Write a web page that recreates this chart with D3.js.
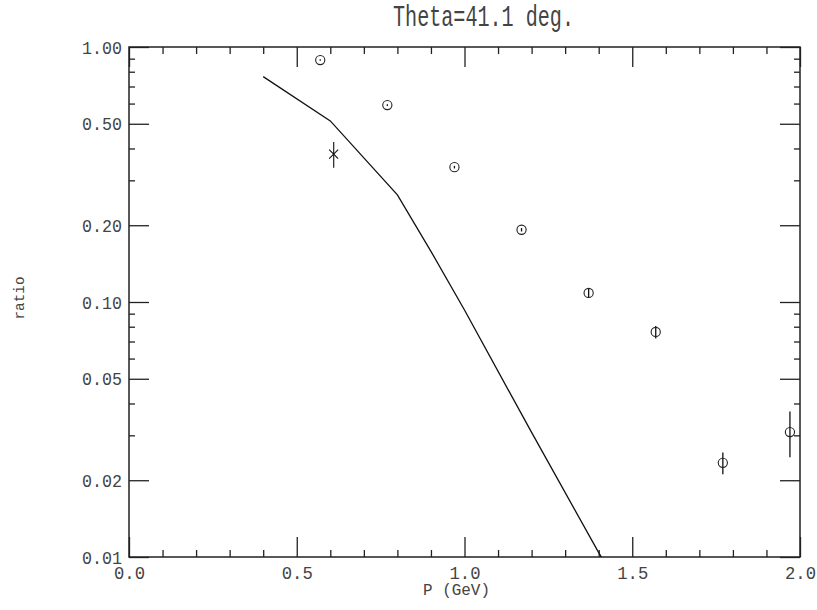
<!DOCTYPE html>
<html>
<head>
<meta charset="utf-8">
<script src="https://cdn.jsdelivr.net/npm/d3@7"></script>
<style>
  body { margin: 0; background: #fff; }
  text { font-family: "Liberation Mono", "DejaVu Sans Mono", monospace; fill: #444; }
</style>
</head>
<body>
<div id="chart"></div>
<script>
// measured points (open circles)
const pData = [0.57, 0.77, 0.97, 1.17, 1.37, 1.57, 1.77, 1.97];
const ratio = [0.889, 0.592, 0.338, 0.192, 0.1085, 0.0763, 0.0234, 0.0309];
const ratioErr = [0.006, 0.005, 0.004, 0.003, 0.0044, 0.0043, 0.0023, 0.0063];

// single star point
const pStar = [0.61];
const ratioStar = [0.38];
const errStar = [0.044];

// model curve
const curveP = [0.4, 0.6, 0.8, 0.9, 1.0, 1.2, 1.4, 1.41];
const curveRatio = [0.765, 0.513, 0.263, 0.158, 0.093, 0.0308, 0.0104, 0.0099];

// ticks
const xMajor = [0, 0.5, 1.0, 1.5, 2.0];
const xMinor = d3.range(0, 21).map(d => d / 10).filter(d => Math.round(d * 10) % 5 !== 0);
const yMajor = [0.01, 0.02, 0.05, 0.1, 0.2, 0.5, 1.0];
const yMinor = [0.03, 0.04, 0.06, 0.07, 0.08, 0.09, 0.3, 0.4, 0.6, 0.7, 0.8, 0.9];

const width = 817,
    height = 610;
const margin = {top: 47, right: 17, bottom: 53, left: 129};
const w = width - margin.left - margin.right,
    h = height - margin.top - margin.bottom;

const x = d3.scaleLinear().domain([0, 2]).range([0, w]);
const y = d3.scaleLog().domain([0.01, 1]).range([h, 0]);

const svg = d3.select("#chart").append("svg")
    .attr("width", width)
    .attr("height", height);

const g = svg.append("g")
    .attr("transform", "translate(" + margin.left + "," + margin.top + ")");

svg.append("defs").append("clipPath")
    .attr("id", "clip")
  .append("rect")
    .attr("width", w)
    .attr("height", h);

// title
svg.append("text")
    .attr("x", 393)
    .attr("y", 26)
    .attr("font-size", 29)
    .attr("textLength", 181)
    .attr("lengthAdjust", "spacingAndGlyphs")
    .text("Theta=41.1 deg.");

function styleAxis(sel) {
  sel.select(".domain").remove();
  sel.selectAll("line").attr("stroke", "#222").attr("stroke-width", 1.3);
}

// bottom axis
g.append("g")
    .attr("transform", "translate(0," + h + ")")
    .call(d3.axisBottom(x).tickValues(xMajor).tickSize(-20).tickPadding(9)
      .tickFormat(d3.format(".1f")))
    .call(styleAxis)
    .selectAll("text")
      .attr("font-size", 19)
      .attr("textLength", 31)
      .attr("lengthAdjust", "spacingAndGlyphs");

g.append("g")
    .attr("transform", "translate(0," + h + ")")
    .call(d3.axisBottom(x).tickValues(xMinor).tickSize(-7).tickFormat(""))
    .call(styleAxis);

// top axis
g.append("g")
    .call(d3.axisTop(x).tickValues(xMajor).tickSize(-20).tickFormat(""))
    .call(styleAxis);
g.append("g")
    .call(d3.axisTop(x).tickValues(xMinor).tickSize(-7).tickFormat(""))
    .call(styleAxis);

// left axis
g.append("g")
    .call(d3.axisLeft(y).tickValues(yMajor).tickSize(-20).tickPadding(7)
      .tickFormat(d3.format(".2f")))
    .call(styleAxis)
    .selectAll("text")
      .attr("font-size", 19)
      .attr("textLength", 40)
      .attr("lengthAdjust", "spacingAndGlyphs");
g.append("g")
    .call(d3.axisLeft(y).tickValues(yMinor).tickSize(-6).tickFormat(""))
    .call(styleAxis);

// right axis
g.append("g")
    .attr("transform", "translate(" + w + ",0)")
    .call(d3.axisRight(y).tickValues(yMajor).tickSize(-20).tickFormat(""))
    .call(styleAxis);
g.append("g")
    .attr("transform", "translate(" + w + ",0)")
    .call(d3.axisRight(y).tickValues(yMinor).tickSize(-6).tickFormat(""))
    .call(styleAxis);

// frame
g.append("rect")
    .attr("width", w)
    .attr("height", h)
    .attr("fill", "none")
    .attr("stroke", "#222")
    .attr("stroke-width", 1.5);

// axis titles
svg.append("text")
    .attr("x", 423)
    .attr("y", 595)
    .attr("font-size", 17)
    .attr("textLength", 67)
    .attr("lengthAdjust", "spacingAndGlyphs")
    .text("P (GeV)");

svg.append("text")
    .attr("transform", "translate(24,298) rotate(-90)")
    .attr("text-anchor", "middle")
    .attr("font-size", 15)
    .attr("textLength", 43)
    .attr("lengthAdjust", "spacingAndGlyphs")
    .text("ratio");

// curve
const line = d3.line()
    .x(function(d, i) { return x(curveP[i]); })
    .y(function(d) { return y(d); });

g.append("path")
    .datum(curveRatio)
    .attr("clip-path", "url(#clip)")
    .attr("d", line)
    .attr("fill", "none")
    .attr("stroke", "#111")
    .attr("stroke-width", 1.3);

// circles with error bars
const pts = g.selectAll(".pt")
    .data(ratio)
  .enter().append("g")
    .attr("class", "pt");

pts.append("line")
    .attr("x1", function(d, i) { return x(pData[i]); })
    .attr("x2", function(d, i) { return x(pData[i]); })
    .attr("y1", function(d, i) { return y(d + ratioErr[i]); })
    .attr("y2", function(d, i) { return y(d - ratioErr[i]); })
    .attr("stroke", "#111")
    .attr("stroke-width", 1.3);

pts.append("circle")
    .attr("cx", function(d, i) { return x(pData[i]); })
    .attr("cy", function(d) { return y(d); })
    .attr("r", 4.6)
    .attr("fill", "none")
    .attr("stroke", "#222")
    .attr("stroke-width", 1.1);

// star point
const star = g.selectAll(".star")
    .data(ratioStar)
  .enter().append("g")
    .attr("class", "star");

star.append("line")
    .attr("x1", function(d, i) { return x(pStar[i]); })
    .attr("x2", function(d, i) { return x(pStar[i]); })
    .attr("y1", function(d, i) { return y(d + errStar[i]); })
    .attr("y2", function(d, i) { return y(d - errStar[i]); })
    .attr("stroke", "#333")
    .attr("stroke-width", 1.3);

star.append("path")
    .attr("d", function(d, i) {
      const cx = x(pStar[i]), cy = y(d), s = 4.5;
      return "M" + (cx - s) + "," + (cy - s) + "L" + (cx + s) + "," + (cy + s) +
             "M" + (cx - s) + "," + (cy + s) + "L" + (cx + s) + "," + (cy - s);
    })
    .attr("stroke", "#111")
    .attr("stroke-width", 1.1);
</script>
</body>
</html>
